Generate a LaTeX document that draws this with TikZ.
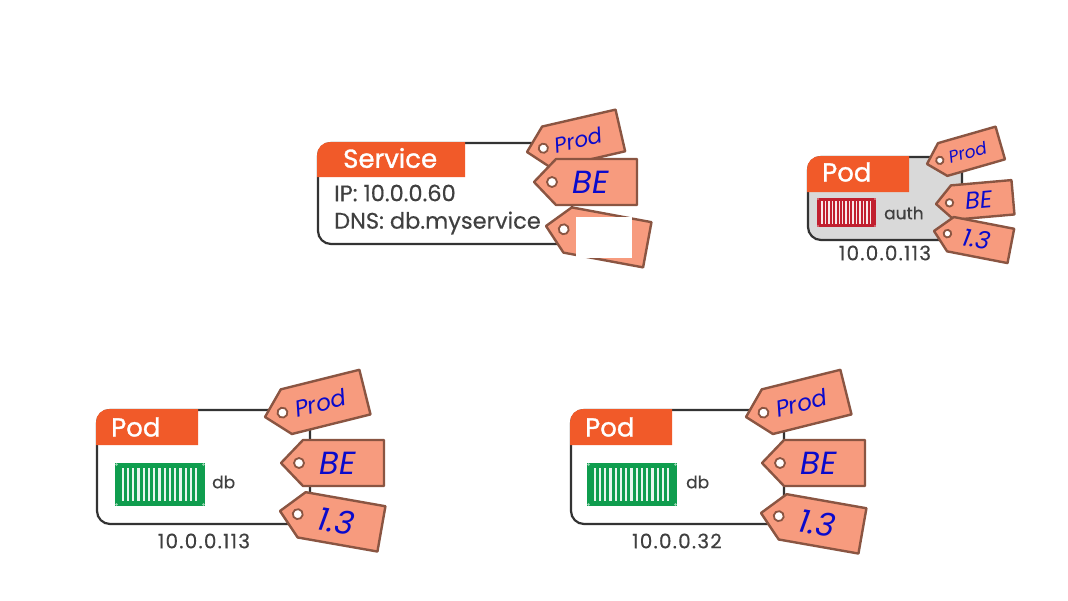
\documentclass[tikz,border=0pt]{standalone}
\usepackage{fontspec}
\setmainfont{Poppins}
\newfontfamily\hdrfont[FakeBold=1.2]{Poppins}
\newfontfamily\medfont[FakeBold=0.4]{Poppins}
\newfontfamily\addrfont[FakeBold=0.4,LetterSpace=6]{Poppins}
\usepackage{tikz}
\definecolor{hdrorange}{HTML}{F15A29}
\definecolor{tagfill}{HTML}{F79B7E}
\definecolor{tagline}{HTML}{8A5542}
\definecolor{inkblue}{HTML}{0A0ACC}
\definecolor{boxline}{HTML}{333333}
\definecolor{txtgrey}{HTML}{404040}
\definecolor{authred}{HTML}{C1202F}
\definecolor{dbgreen}{HTML}{0F9D4E}
\tikzstyle{hdr}=[text=white, anchor=west, inner sep=0pt, font=\fontsize{26}{26}\selectfont\hdrfont]
\tikzstyle{info}=[text=txtgrey, anchor=west, inner sep=0pt, font=\fontsize{22.5}{23}\selectfont\medfont]
\tikzstyle{ctr}=[text=txtgrey, anchor=west, inner sep=0pt, font=\fontsize{17}{17}\selectfont\medfont]
\tikzstyle{addr}=[text=txtgrey, inner sep=0pt, font=\fontsize{20}{20}\selectfont\addrfont]
\tikzstyle{ink}=[text=inkblue, inner sep=0pt, transform shape, font=\itshape]
\newcommand{\inksmall}[1]{\fontsize{23}{23}\selectfont #1}
\newcommand{\inkbig}[1]{\fontsize{32}{32}\selectfont #1}
% #1 left, #2 top, #3 right, #4 bottom, #5 header right, #6 header bottom, #7 fill
\newcommand{\podbox}[7]{
  \draw[boxline, line width=2.2pt, rounded corners=13pt, fill=#7] (#1,#2) rectangle (#3,#4);
  \fill[hdrorange] (#1-1,#6) [rounded corners=13pt] -- (#1-1,#2-1) [sharp corners] -- (#5,#2-1) -- (#5,#6) -- cycle;
}
% #1 tip x, #2 tip y, #3 angle, #4 size, #5 text, #6 node name
\newcommand{\labeltag}[6]{
  \begin{scope}[shift={(#1,#2)}, rotate=#3, scale=#4]
    \draw[tagline, line width=2.4pt, fill=tagfill, line join=round] (0,0) -- (22,-23) -- (103,-23) -- (103,23) -- (22,23) -- cycle;
    \draw[tagline, line width=1.8pt, fill=white] (18,0) circle (5);
    \node[ink] (#6) at (57,0) {#5};
  \end{scope}
}
% #1 left, #2 top, #3 width, #4 height, #5 colour
\newcommand{\cargo}[5]{
  \begin{scope}[shift={(#1,#2)}, xscale=#3/90, yscale=#4/43]
    \fill[#5] (0,0) rectangle (90,43);
    \foreach \i in {0,...,14}
      \fill[white!90!#5] (6.6+5.25*\i,5) rectangle +(2.2,33);
    \foreach \cx/\cy in {1.5/1.5,88.5/1.5,1.5/41.5,88.5/41.5}
      \fill[white!60!#5] (\cx,\cy) circle (1.3);
  \end{scope}
}
\begin{document}
\begin{tikzpicture}[x=1pt,y=-1pt]
  \useasboundingbox (0,0) rectangle (1068,600);

  % service
  \podbox{318}{143}{572}{244}{465}{177}{white}
  \node[hdr] (svcname) at (343,158) {Service};
  \node[info] (svcip) at (334,193) {IP: 10.0.0.60};
  \node[info] (svcdns) at (334,223) {DNS: db.myservice};
  \labeltag{527}{152}{13}{.93}{\inksmall{Prod}}{svcprod}
  \labeltag{546}{226}{-10.5}{1}{}{svcblank}
  \labeltag{534}{182}{0}{1}{\inkbig{BE}}{svcbe}
  \fill[white] (576,217) rectangle (632,258);

  % auth pod
  \podbox{808}{157}{962}{240}{909}{192}{black!15}
  \node[hdr] (authname) at (822,172) {Pod};
  \cargo{817}{198}{59}{29}{authred}
  \node[ctr] (authctr) at (884,213) {auth};
  \node[addr] (authip) at (885,253) {10.0.0.113};
  \labeltag{927}{164}{16}{.74}{\inksmall{Prod}}{authprod}
  \labeltag{936}{204}{5}{.75}{\inkbig{BE}}{authbe}
  \labeltag{934}{231}{-11}{.76}{\inkbig{1.3}}{authver}

  % db pod, left
  \podbox{97}{410}{310}{524}{198}{445}{white}
  \node[hdr] (dbaname) at (111,427) {Pod};
  \cargo{115}{463}{90}{43}{dbgreen}
  \node[ctr] (dbactr) at (212,482) {db};
  \node[addr] (dbaip) at (204,541) {10.0.0.113};
  \labeltag{265}{417}{14}{1}{\inksmall{Prod}}{dbaprod}
  \labeltag{281}{463}{0}{1}{\inkbig{BE}}{dbabe}
  \labeltag{280}{511}{-10}{1}{\inkbig{1.3}}{dbaver}

  % db pod, right
  \podbox{571}{410}{784}{524}{672}{445}{white}
  \node[hdr] (dbbname) at (585,427) {Pod};
  \cargo{587}{463}{90}{43}{dbgreen}
  \node[ctr] (dbbctr) at (686,482) {db};
  \node[addr] (dbbip) at (677,541) {10.0.0.32};
  \labeltag{746}{417}{14}{1}{\inksmall{Prod}}{dbbprod}
  \labeltag{762}{463}{0}{1}{\inkbig{BE}}{dbbbe}
  \labeltag{761}{513}{-10}{1}{\inkbig{1.3}}{dbbver}
\end{tikzpicture}
\end{document}
